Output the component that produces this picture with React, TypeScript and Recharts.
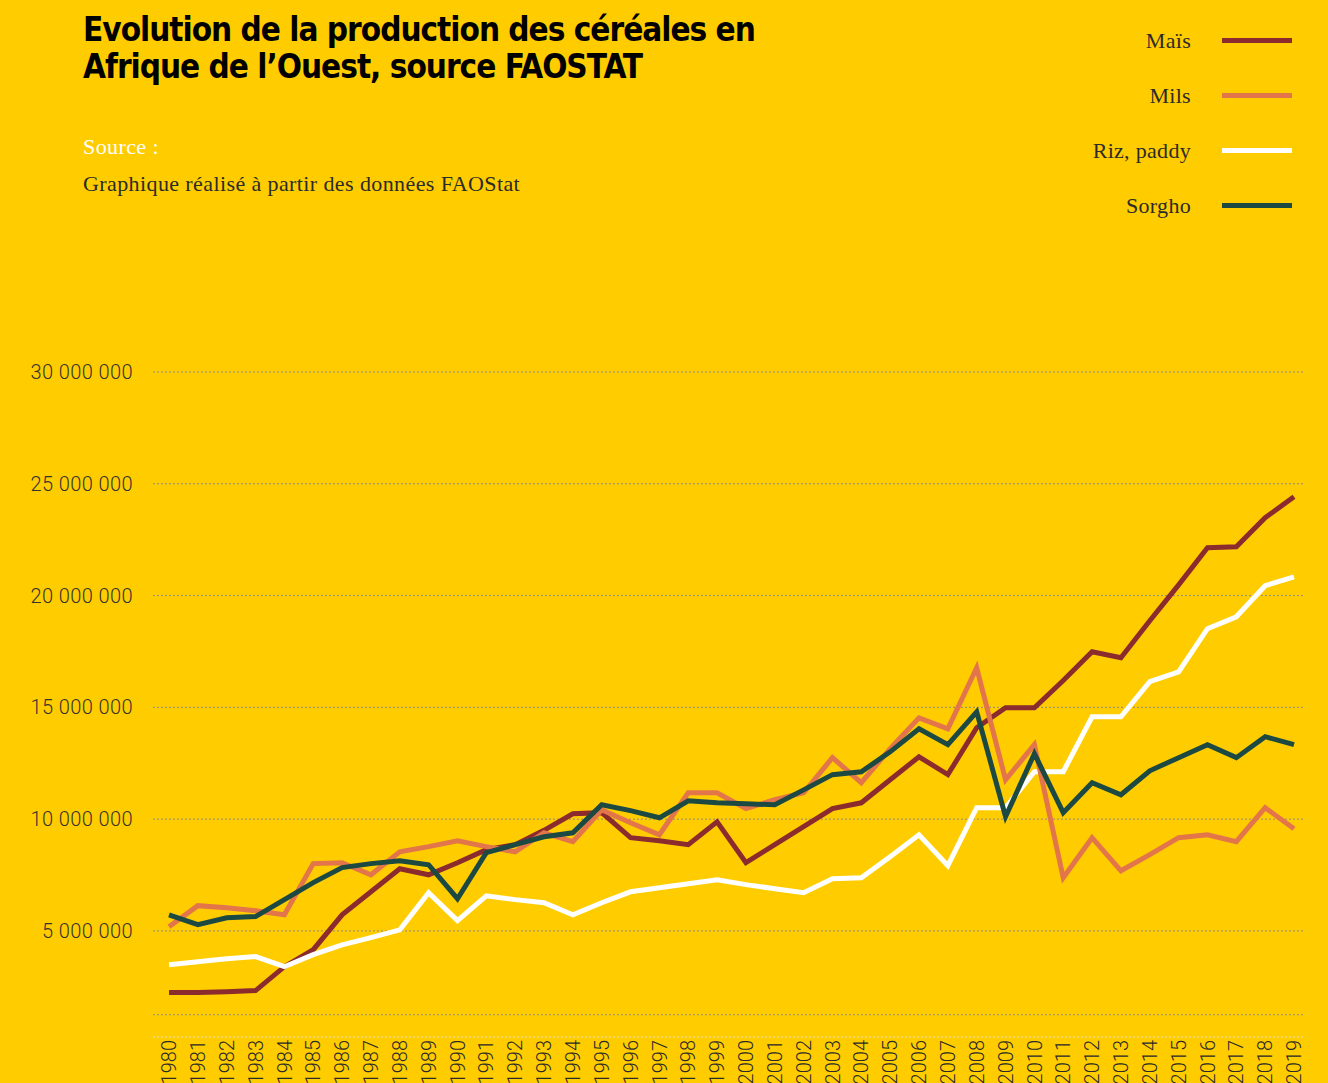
import { CartesianGrid, Line, LineChart, XAxis, YAxis } from "recharts";

const years = [
  "1980", "1981", "1982", "1983", "1984", "1985", "1986", "1987", "1988", "1989",
  "1990", "1991", "1992", "1993", "1994", "1995", "1996", "1997", "1998", "1999",
  "2000", "2001", "2002", "2003", "2004", "2005", "2006", "2007", "2008", "2009",
  "2010", "2011", "2012", "2013", "2014", "2015", "2016", "2017", "2018", "2019"
];

const mais = [
  2240000, 2240000, 2280000, 2330000, 3400000, 4160000, 5720000, 6750000, 7780000, 7510000,
  8050000, 8630000, 8860000, 9500000, 10240000, 10290000, 9170000, 9030000, 8860000, 9880000,
  8050000, 8860000, 9660000, 10470000, 10730000, 11760000, 12790000, 11990000, 14090000, 14980000,
  14980000, 16200000, 17490000, 17220000, 18870000, 20480000, 22140000, 22180000, 23480000, 24420000
];

const mils = [
  5190000, 6130000, 6040000, 5900000, 5720000, 8010000, 8050000, 7510000, 8540000, 8770000,
  9030000, 8770000, 8540000, 9390000, 8990000, 10420000, 9840000, 9300000, 11180000, 11180000,
  10470000, 10870000, 11180000, 12750000, 11630000, 13150000, 14530000, 14040000, 16770000, 11760000,
  13330000, 7380000, 9170000, 7690000, 8410000, 9170000, 9300000, 8990000, 10510000, 9570000
];

const riz = [
  3490000, 3620000, 3760000, 3850000, 3400000, 3940000, 4380000, 4700000, 5050000, 6710000,
  5460000, 6570000, 6400000, 6260000, 5720000, 6260000, 6750000, 6930000, 7110000, 7290000,
  7070000, 6890000, 6710000, 7330000, 7380000, 8320000, 9300000, 7920000, 10510000, 10510000,
  12120000, 12120000, 14580000, 14580000, 16150000, 16590000, 18520000, 19050000, 20440000, 20840000
];

const sorgho = [
  5720000, 5280000, 5590000, 5640000, 6400000, 7160000, 7830000, 8010000, 8140000, 7960000,
  6440000, 8500000, 8860000, 9210000, 9390000, 10640000, 10380000, 10060000, 10820000, 10730000,
  10690000, 10640000, 11310000, 11990000, 12120000, 13010000, 14040000, 13330000, 14800000, 10110000,
  12930000, 10290000, 11630000, 11090000, 12160000, 12750000, 13330000, 12750000, 13690000, 13330000
];

const yTicks = [1250000, 5000000, 10000000, 15000000, 20000000, 25000000, 30000000];

// legend order
const series = [
  { key: "mais", name: "Maïs", color: "#8b2b2d" },
  { key: "mils", name: "Mils", color: "#e3754a" },
  { key: "riz", name: "Riz, paddy", color: "#ffffff" },
  { key: "sorgho", name: "Sorgho", color: "#1c4a43" }
];
// white line sits above maïs, mils and sorgho above the rest
const drawOrder = ["mais", "riz", "mils", "sorgho"];

const data = years.map((year, i) => ({
  year,
  mais: mais[i],
  mils: mils[i],
  riz: riz[i],
  sorgho: sorgho[i]
}));

const BG = "#ffcc00";
const tickFont = "Roboto, 'Noto Sans', sans-serif";
const serif = "'Liberation Serif', 'DejaVu Serif', serif";

function fmt(v: number) {
  if (v < 5000000) return "";
  return String(v).replace(/\B(?=(\d{3})+(?!\d))/g, " ");
}

function YearTick(props: any) {
  const { x, y, payload } = props;
  return (
    <text
      x={x}
      y={y}
      transform={`rotate(-90, ${x}, ${y})`}
      textAnchor="end"
      dy="0.36em"
      fontFamily={tickFont}
      fontWeight={300}
      fontSize={20}
      fill="#2a2a2a"
    >
      {payload.value}
    </text>
  );
}

function LegendBox() {
  return (
    <div style={{ position: "absolute", top: 13, right: 36, width: 320 }}>
      {series.map((s) => (
        <div
          key={s.key}
          style={{ display: "flex", alignItems: "center", justifyContent: "flex-end", height: 55 }}
        >
          <span style={{ fontFamily: serif, fontSize: 22, letterSpacing: 0.3, color: "#2b2b2b", marginRight: 31 }}>
            {s.name}
          </span>
          <span style={{ display: "inline-block", width: 70, height: 5, background: s.color }} />
        </div>
      ))}
    </div>
  );
}

export default function App() {
  const byKey = Object.fromEntries(series.map((s) => [s.key, s]));
  return (
    <div style={{ position: "absolute", left: 0, top: 0, width: 1328, height: 1083, background: BG, overflow: "hidden" }}>
      <div
        style={{
          position: "absolute",
          left: 83,
          top: 11,
          fontFamily: "'Liberation Sans Narrow', 'DejaVu Sans Condensed', 'Liberation Sans', sans-serif",
          fontWeight: 700,
          fontSize: 33,
          letterSpacing: -1,
          lineHeight: "37px",
          color: "#000"
        }}
      >
        Evolution de la production des céréales en
        <br />
        Afrique de l’Ouest, source FAOSTAT
      </div>
      <div
        style={{
          position: "absolute",
          left: 83,
          top: 128,
          fontFamily: serif,
          fontSize: 22,
          letterSpacing: 0.4,
          lineHeight: "37px"
        }}
      >
        <div style={{ color: "#fff" }}>Source :</div>
        <div style={{ color: "#2b2b2b" }}>Graphique réalisé à partir des données FAOStat</div>
      </div>
      <LegendBox />

      <LineChart width={1328} height={1083} data={data} margin={{ top: 372, right: 25, left: 0, bottom: 0 }}>
        <CartesianGrid vertical={false} stroke="#8c8c84" strokeDasharray="2 2" horizontalValues={yTicks} />
        <XAxis
          dataKey="year"
          height={46}
          interval={0}
          padding={{ left: 16, right: 9 }}
          axisLine={{ stroke: "#e2dccb", strokeDasharray: "2 2" }}
          tickLine={false}
          tickSize={0}
          tickMargin={3}
          tick={<YearTick />}
        />
        <YAxis
          width={153}
          domain={[255000, 30000000]}
          ticks={yTicks}
          tickFormatter={fmt}
          axisLine={false}
          tickLine={false}
          tickSize={0}
          tickMargin={20}
          tick={{ fontFamily: tickFont, fontWeight: 300, fontSize: 20, letterSpacing: 0.4, fill: "#333" }}
        />
        {drawOrder.map((k) => (
          <Line
            key={k}
            type="linear"
            dataKey={k}
            name={byKey[k].name}
            stroke={byKey[k].color}
            strokeWidth={5}
            dot={false}
            activeDot={false}
            isAnimationActive={false}
          />
        ))}
      </LineChart>
    </div>
  );
}
